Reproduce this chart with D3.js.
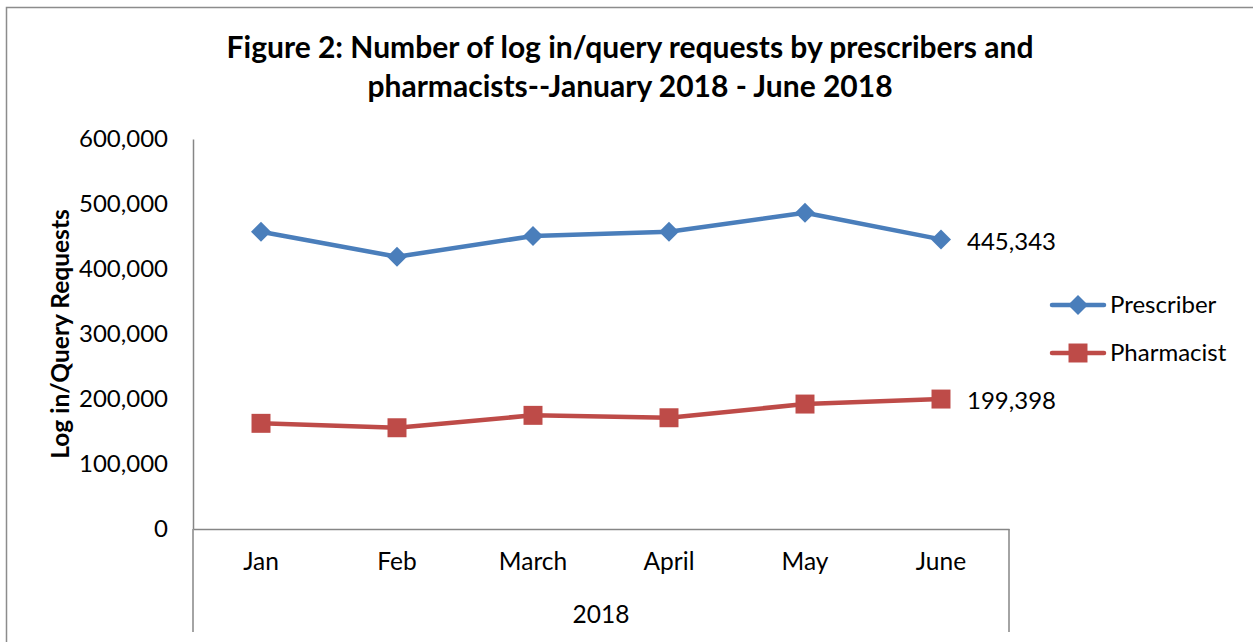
<!DOCTYPE html>
<html>
<head>
<meta charset="utf-8">
<script src="https://cdn.jsdelivr.net/npm/d3@7"></script>
<style>
  body { margin: 0; background: #fff; }
  text { font-family: Lato, "Open Sans", sans-serif; fill: #000; }
</style>
</head>
<body>
<script>
"use strict";

const months = ["Jan", "Feb", "March", "April", "May", "June"];
const prescriber = [457100, 418600, 450500, 457100, 486400, 445343];
const pharmacist = [162000, 155200, 174300, 170600, 191700, 199398];
const yTicks = [0, 100000, 200000, 300000, 400000, 500000, 600000];
const seriesNames = ["Prescriber", "Pharmacist"];
const colors = ["#4a7ebb", "#be4b48"];

let svg = d3
  .select("body")
  .append("svg")
  .attr("width", 1253)
  .attr("height", 642);

// chart border (left and top visible)
svg.append("path")
  .attr("d", "M6.5,642 L6.5,7.5 L1253,7.5")
  .attr("fill", "none")
  .attr("stroke", "#8c8c8c")
  .attr("stroke-width", 1.5);

// title
let title = svg.append("text")
  .attr("text-anchor", "middle")
  .attr("font-weight", "bold")
  .attr("font-size", 30);
title.append("tspan").attr("x", 630).attr("y", 58).text("Figure 2: Number of log in/query requests by prescribers and");
title.append("tspan").attr("x", 630).attr("y", 97).text("pharmacists--January 2018 - June 2018");

const x = d3.scaleBand().domain(months).range([193, 1009]);
const y = d3.scaleLinear().domain([0, 600000]).range([528.5, 139]);

// y axis
let yAxis = svg.append("g")
  .attr("transform", "translate(193,0)")
  .call(d3.axisLeft(y).tickValues(yTicks).tickSize(0).tickPadding(25).tickFormat(d3.format(",")));
yAxis.select(".domain").attr("stroke", "#868686").attr("stroke-width", 1.5);
yAxis.selectAll("text").attr("font-size", 24).attr("font-family", "Lato, sans-serif").attr("fill", "#000");

// x axis
let xAxis = svg.append("g")
  .attr("transform", "translate(0,529)")
  .call(d3.axisBottom(x).tickSize(0).tickPadding(24));
xAxis.select(".domain").attr("stroke", "#868686").attr("stroke-width", 1.5);
xAxis.selectAll("text").attr("font-size", 24.5).attr("font-family", "Lato, sans-serif").attr("fill", "#000");

// group level separators
svg.selectAll(".sep")
  .data([193, 1009])
  .enter()
  .append("line")
  .attr("x1", d => d)
  .attr("x2", d => d)
  .attr("y1", 529)
  .attr("y2", 632)
  .attr("stroke", "#868686")
  .attr("stroke-width", 1.5);

svg.append("text")
  .attr("x", 601)
  .attr("y", 623)
  .attr("text-anchor", "middle")
  .attr("font-size", 24.5)
  .text("2018");

// y axis title
svg.append("text")
  .attr("transform", "translate(69,334) rotate(-90)")
  .attr("text-anchor", "middle")
  .attr("font-weight", "bold")
  .attr("font-size", 24.5)
  .text("Log in/Query Requests");

const line = d3.line()
  .x((d, i) => x(months[i]) + x.bandwidth() / 2)
  .y(d => y(d));

const diamond = d3.symbol().type(d3.symbolSquare).size(200);
const square = d3.symbol().type(d3.symbolSquare).size(360);

[prescriber, pharmacist].forEach((vals, s) => {
  let g = svg.append("g");
  g.append("path")
    .attr("d", line(vals))
    .attr("fill", "none")
    .attr("stroke", colors[s])
    .attr("stroke-width", 4.5)
    .attr("stroke-linejoin", "round");
  g.selectAll("path.mark")
    .data(vals)
    .enter()
    .append("path")
    .attr("class", "mark")
    .attr("d", s === 0 ? diamond : square)
    .attr("fill", colors[s])
    .attr("transform", (d, i) => "translate(" + (x(months[i]) + x.bandwidth() / 2) + "," + y(d) + ")" + (s === 0 ? " rotate(45)" : ""));

  // last point label
  let last = vals[vals.length - 1];
  g.append("text")
    .attr("x", 967)
    .attr("y", y(last) + 2)
    .attr("dy", "0.35em")
    .attr("font-size", 24)
    .text(d3.format(",")(last));
});

// legend
seriesNames.forEach((name, s) => {
  let ly = 305 + s * 48;
  let lg = svg.append("g");
  lg.append("line")
    .attr("x1", 1052).attr("x2", 1104)
    .attr("y1", ly).attr("y2", ly)
    .attr("stroke", colors[s])
    .attr("stroke-width", 4.5)
    .attr("stroke-linecap", "round");
  lg.append("path")
    .attr("d", s === 0 ? diamond : square)
    .attr("fill", colors[s])
    .attr("transform", "translate(1078," + ly + ")" + (s === 0 ? " rotate(45)" : ""));
  lg.append("text")
    .attr("x", 1110)
    .attr("y", ly)
    .attr("dy", "0.35em")
    .attr("font-size", 24)
    .text(name);
});
</script>
</body>
</html>
